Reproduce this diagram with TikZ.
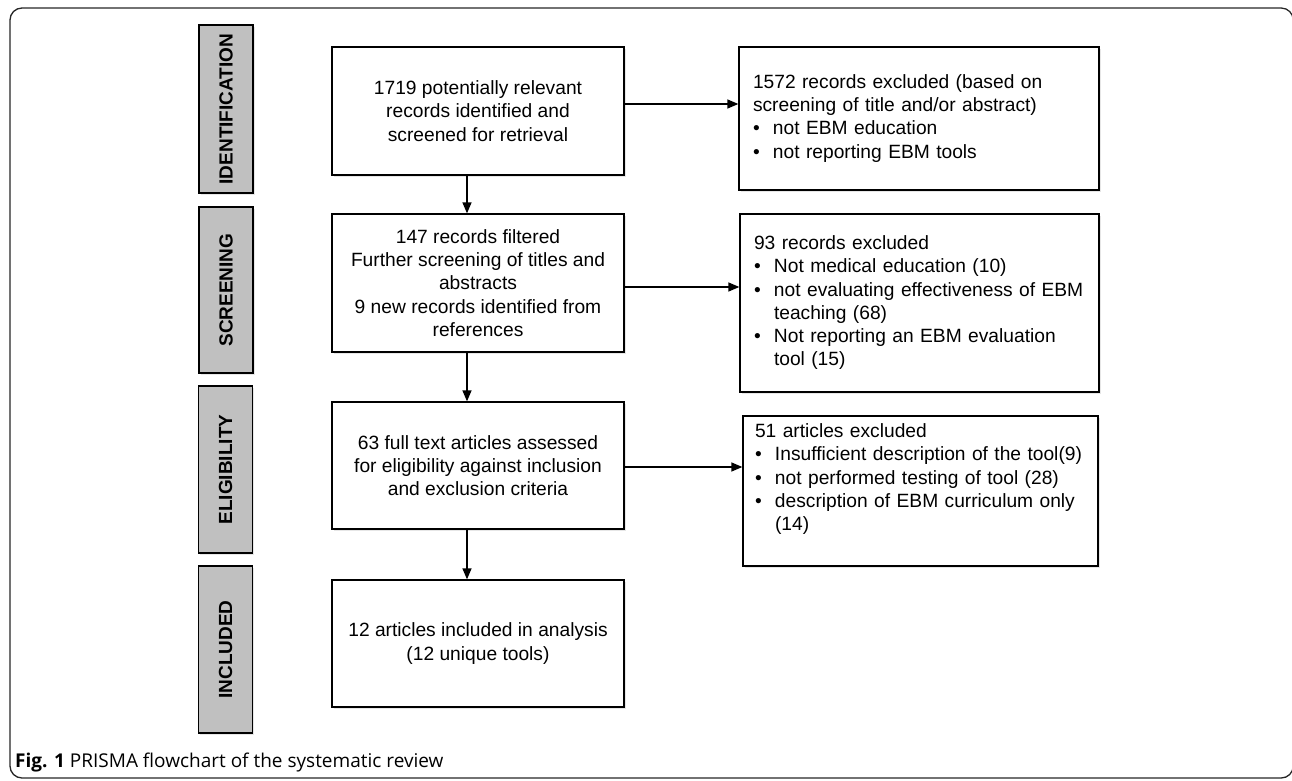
\documentclass[tikz,border=0pt]{standalone}
\usepackage{fontspec}
\setmainfont{Liberation Sans}
\newfontfamily\capfont{Open Sans}
\usetikzlibrary{arrows.meta,shadows}
\definecolor{labgray}{HTML}{C0C0C0}
\newcommand{\bul}{\makebox[20pt][l]{•}}
\newcommand{\whole}[1]{\multicolumn{2}{@{}l@{}}{#1}}
\begin{document}
\begin{tikzpicture}[x=1pt,y=-1pt,
  boxshadow/.style={drop shadow={shadow xshift=1.5pt,shadow yshift=-1.5pt,opacity=0.22,fill=black!45}},
  cbox/.style={draw, line width=1.3pt, fill=white, align=center, minimum width=292pt,
    inner sep=0pt, font=\fontsize{19.2}{23.3}\selectfont, boxshadow},
  rbox/.style={draw, line width=1.3pt, fill=white, align=left, inner xsep=14pt, inner ysep=0pt,
    font=\fontsize{19.2}{23.3}\selectfont, boxshadow},
  labbox/.style={draw, line width=1.3pt, fill=labgray, rotate=90, inner sep=0pt,
    minimum height=54pt, font=\bfseries\fontsize{19}{22}\selectfont, boxshadow},
  arr/.style={line width=1.3pt, -{Triangle[length=11pt,width=9pt]}}]
\useasboundingbox (0,0) rectangle (1292,780);
\draw[rounded corners=12pt, line width=1.3pt, black!85] (10,8) rectangle (1293.2,778);

% stage labels
\node[labbox, minimum width=168pt] (lid) at (226,109) {IDENTIFICATION};
\node[labbox, minimum width=166pt] (lsc) at (226,290) {SCREENING};
\node[labbox, minimum width=167pt] (lel) at (225.5,469.5) {ELIGIBILITY};
\node[labbox, minimum width=167pt] (lin) at (225.5,649.5) {INCLUDED};

% main column
\node[cbox, minimum height=128pt] (b1) at (478,111) {1719 potentially relevant\\records identified and\\screened for retrieval};
\node[cbox, minimum height=138pt] (b2) at (478,283) {147 records filtered\\Further screening of titles and\\abstracts\\9 new records identified from\\references};
\node[cbox, minimum height=127pt] (b3) at (478,465.5) {63 full text articles assessed\\for eligibility against inclusion\\and exclusion criteria};
\node[cbox, minimum height=127pt] (b4) at (478,643.5) {12 articles included in analysis\\(12 unique tools)};

% exclusion column
\node[rbox, text width=332pt, minimum height=143pt] (r1) at (919,118.5) {%
\begin{tabular}{@{}l@{}l@{}}
\whole{1572 records excluded (based on}\\
\whole{screening of title and/or abstract)}\\
\bul & not EBM education\\
\bul & not reporting EBM tools
\end{tabular}};
\node[rbox, text width=331pt, minimum height=178pt] (r2) at (919.5,303) {%
\begin{tabular}{@{}l@{}l@{}}
\whole{93 records excluded}\\
\bul & Not medical education (10)\\
\bul & not evaluating effectiveness of EBM\\
 & teaching (68)\\
\bul & Not reporting an EBM evaluation\\
 & tool (15)
\end{tabular}};
\node[rbox, inner xsep=12pt, text width=331pt, minimum height=150pt] (r3) at (920.5,491) {%
\begin{tabular}{@{}l@{}l@{}}
\whole{51 articles excluded}\\
\bul & Insufficient description of the tool(9)\\
\bul & not performed testing of tool (28)\\
\bul & description of EBM curriculum only\\
 & (14)\\
 & \\
\end{tabular}};

% connectors
\coordinate (vx) at (467,0);
\coordinate (h1) at (0,104);
\coordinate (h2) at (0,287);
\coordinate (h3) at (0,467);
\draw[arr] (vx |- b1.south) -- (vx |- b2.north);
\draw[arr] (vx |- b2.south) -- (vx |- b3.north);
\draw[arr] (vx |- b3.south) -- (vx |- b4.north);
\draw[arr] (b1.east |- h1) -- (r1.west |- h1);
\draw[arr] (b2.east |- h2) -- (r2.west |- h2);
\draw[arr] (b3.east |- h3) -- (r3.west |- h3);

% caption
\node[anchor=base west, inner sep=0pt, font=\capfont\fontsize{19}{22}\selectfont] (cap) at (15,767)
  {\textbf{Fig. 1} PRISMA flowchart of the systematic review};
\end{tikzpicture}
\end{document}
